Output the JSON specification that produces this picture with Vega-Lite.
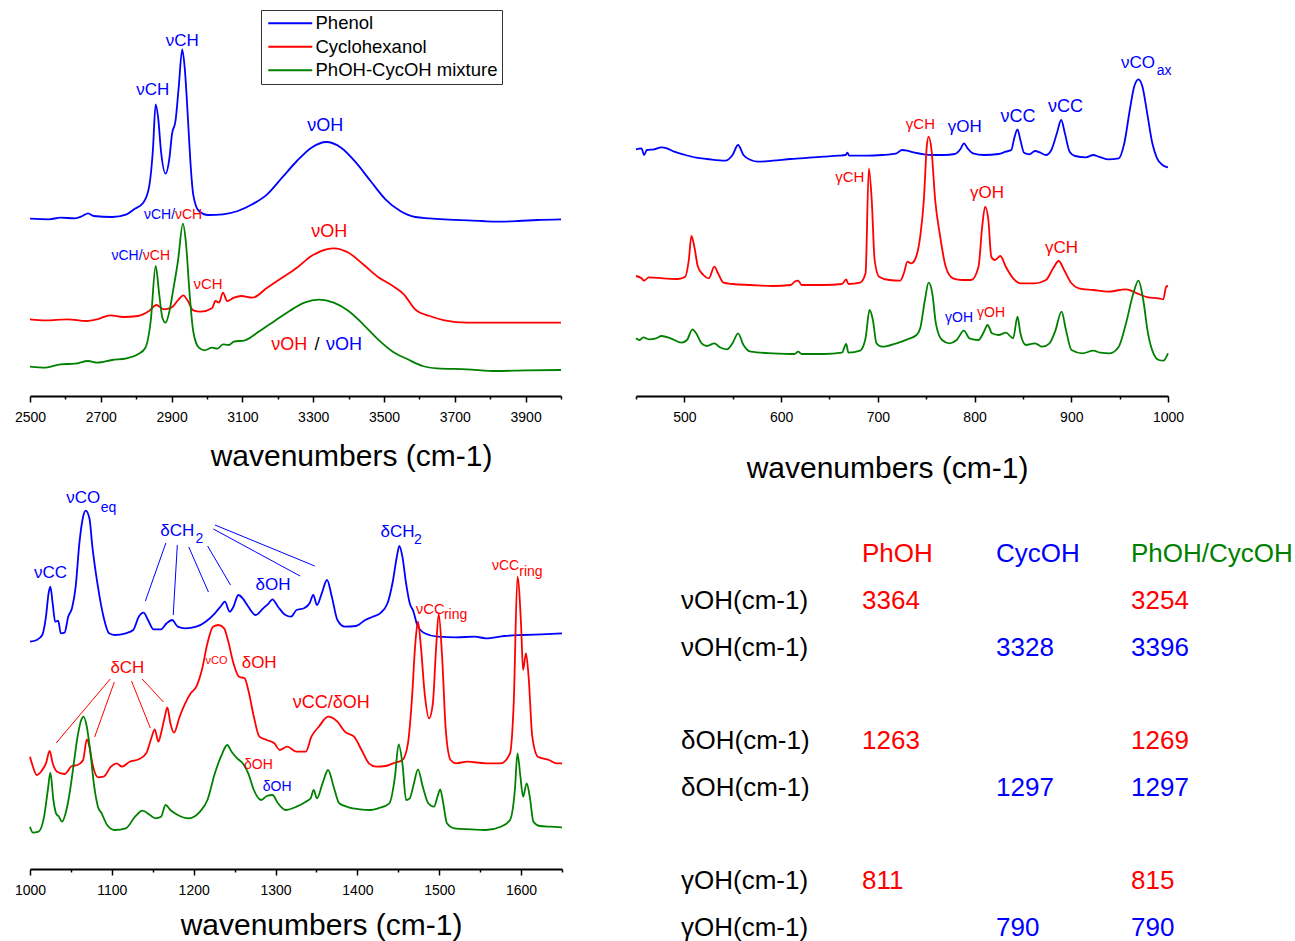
{
"$schema":"https://vega.github.io/schema/vega-lite/v6.json",
"padding":{"left":14,"top":8,"right":2,"bottom":0},
"config":{
 "view":{"stroke":null},
 "font":"Liberation Sans",
 "axis":{"domainColor":"black","domainWidth":2,"tickColor":"black","tickWidth":1.5,"labelFont":"Liberation Sans","labelFontSize":14,"labelColor":"black","labelFlush":false,"labelOverlap":false,"labelPadding":8,"titleFont":"Liberation Sans","titleFontSize":30,"titleFontWeight":"normal","titleColor":"black","titleAlign":"center","titleBaseline":"alphabetic","grid":false}
},
"datasets":{
 "trA":[
  {"s":"Phenol","x":[2500,2554,2586,2627,2648,2664,2680,2732,2773,2794,2820,2836,2847,2855,2862,2870,2883,2894,2901,2911,2920,2930,2937,2946,2953,2961,2977,3003,3045,3087,3128,3170,3212,3254,3295,3337,3379,3421,3462,3504,3546,3588,3629,3671,3776,3817,3880,3932,4000],
   "y":[177.3,176.7,178.3,177.7,180,182.7,180,179,181.7,186.7,193.3,208.3,245,291.7,278.3,245,222.3,238.3,261.7,275,308.3,346.7,328.3,278.3,235,201.7,185,181,181.7,185,191.7,201.7,218.3,235,248.3,254,248.3,233.3,215,196.7,185,179,177.7,176.7,175,174.3,175,176,176.7]},
  {"s":"Cyclohexanol","x":[2500,2544,2606,2659,2690,2727,2763,2805,2836,2857,2878,2899,2920,2933,2946,2961,2982,3014,3024,3034,3045,3057,3076,3097,3128,3170,3212,3254,3295,3337,3358,3400,3441,3483,3525,3556,3588,3629,3671,3734,3776,3880,4000],
   "y":[76.7,75.7,76.7,75,76.7,80.7,79,80,85,91,86.7,88.3,96.7,100.7,95,85.7,84.3,87.7,95,93.3,103.3,95,98.3,100,98.3,108.3,118.3,128.3,140,146.7,147.7,143.3,131.7,119,110,101.7,86.7,80,75.7,73.3,73.3,73.3,73.3]},
  {"s":"PhOH-CycOH mixture","x":[2500,2544,2586,2627,2664,2690,2732,2773,2805,2826,2841,2855,2865,2874,2883,2894,2904,2918,2932,2940,2951,2961,2977,2993,3014,3029,3045,3061,3076,3107,3149,3191,3233,3275,3316,3358,3400,3441,3483,3525,3567,3609,3650,3734,3817,3901,4000],
   "y":[29.3,28.3,31.7,32.3,35,33.3,36,37.7,41.7,48.3,75,130,101.7,78.3,73.3,85,105,135,172.3,155,101.7,65,48.3,45.7,48.3,47.3,51.7,51,54.3,55.7,65,75,85,93.3,96.3,93.3,85,71.7,56.7,44.3,36.7,30,27.7,26.7,25,25.7,26]}
 ],
 "trB":[
  {"s":"Phenol","x":[450,455.7,458.3,461.3,468.8,476.4,482,489.6,500.9,512.2,523.5,542.3,549.8,555.5,561.1,568.7,576.2,591.3,610.1,628.9,644,659.1,666.6,668.5,670.4,689.2,704.3,719.3,725,730.6,738.2,747.6,755.1,768.3,779.6,785.3,789,792.8,798.4,809.7,824.8,832.3,838,841,844.4,847.4,851.2,856.8,862.5,868.1,873.8,879.4,885.1,889.6,893.4,898.3,903.9,915.2,922.8,928.4,937.8,949.1,954.8,960.5,965,969.5,973.6,978.5,983.8,988.7,994.3,1000],
   "y":[246.7,247.7,241,246,246.7,248.7,247.7,244.3,241,238.3,237,235.3,241,251,241,236,234.3,235.3,237,238.3,239.3,240.3,241,243.3,240.3,240.3,241,242.7,246,245.3,243.3,241.7,241,241,242,246.7,252.7,247.7,242.7,241,242,244.3,246,257.7,266.7,256,243.3,241.7,245,243.3,241,246,262.7,276,262.7,244.3,240,238.7,241,239.3,236.7,237.7,252.7,286,309.3,316.7,309.3,282.7,252.7,237.7,231,228.7]},
  {"s":"Cyclohexanol","x":[450,455.7,458.3,463.2,478.3,493.3,500.9,504.6,507.3,510.3,514,519.7,525.3,531,534.8,540.4,549.8,568.7,591.3,610.1,613.9,617.6,621.4,644,662.8,667.3,669.6,681.7,687.3,690.7,693.7,696.7,701.3,711.8,723.1,726.9,730.6,734.4,738.2,743.8,747.6,750.6,752.5,755.5,759.3,764.5,770.2,777.7,787.1,796.6,804.1,807.9,810.9,814.3,817.3,821,826.7,832.3,839.9,847.4,862.5,873.8,881.3,887,892.6,900.2,907.7,922.8,937.8,956.6,967.9,979.3,990.6,995.1,998.1,1000],
   "y":[120,117.7,115.3,118.7,117.7,117,119.3,136,160,149.3,129.3,121,117.7,129.3,122.7,113.3,112,111,110,111,114.3,115.3,111,111,112,116.7,112,113.3,122.7,227.7,196,136,119.3,116,115.3,122.7,134.3,132.7,136,159.3,196,249.3,259.3,246,196,159.3,129.3,117.7,116,116,129.3,169.3,189.3,176,139.3,136,140,129.3,117.7,112.7,112.7,116,127.7,135,126,112.7,107.7,106,104.3,106.7,102.7,98.7,97.7,96.7,109.3,110]},
  {"s":"PhOH-CycOH mixture","x":[450,453.8,457.5,463.2,470.7,476.4,485.8,497.1,502.7,508.4,512.2,517.8,523.5,531,536.6,544.2,549.8,555.5,561.1,568.7,591.3,613.9,617.6,621.4,644,662.8,667.3,669.6,681.7,687.3,691.5,694.9,698.6,704.3,719.3,730.6,740,743.8,748.7,752.5,756.3,760,766.4,774,781.5,789,794.7,804.1,809.7,813.5,818,824.8,832.3,839.9,844.4,847.4,853.1,862.5,870,877.5,883.2,890,894.5,900.2,911.5,922.8,930.3,939.7,949.1,956.6,964.2,969.5,974.4,979.3,984.9,990.6,995.1,1000],
   "y":[57.7,56,58.7,56.7,57.7,60,57.7,53.3,56,66.7,62.7,52.7,50,52.7,48.7,46.7,52.7,62.7,51,44.3,42.7,42,44.3,42,42,43.3,52,43.3,45.3,57.7,86,76,52.7,49.3,52.7,56.7,61,67.7,96,113.3,102.7,72.7,56,52.7,56,65.3,57.7,56,64.3,71,62.7,61,63.3,57.7,79.3,62.7,51,52.7,49.3,52.7,64.3,84.3,66,46,42.7,45.3,43.3,42.7,49.3,72.7,102.7,115.3,96,62.7,42.7,36,35.3,42.7]}
 ],
 "trC":[
  {"s":"Phenol","x":[1000,1008.2,1015,1019.5,1022.7,1024.9,1027.7,1030.8,1034.5,1037.6,1042.2,1046.7,1051.3,1055.8,1060.3,1064.9,1068,1072.6,1076.2,1083,1089.8,1096.6,1103.4,1117,1126.1,1132.9,1138.8,1144.2,1151,1160.1,1166.9,1173.7,1180.5,1189.6,1203.2,1214.6,1225.9,1232.7,1238.1,1244,1248.6,1254.5,1259.9,1266.7,1275.8,1284.9,1291.7,1296.2,1303,1312.1,1318.9,1325.7,1334.8,1341.6,1346.1,1350.6,1356.5,1362.9,1368.8,1375.6,1384.7,1398.3,1409.6,1418.7,1427.7,1436.8,1443.6,1448.2,1451.3,1455,1459.5,1464,1468.6,1473.1,1482.2,1498.1,1520.7,1543.4,1557,1579.7,1602.4,1625,1650],
   "y":[227.3,229,234,252.3,275.7,282.3,265.7,247.3,248.3,235.7,236.3,252.3,260.7,282.3,325.7,352.3,358.3,350.7,322.3,282.3,252.3,235.7,234,235.7,239,252.3,256.3,249,239.7,239.7,245.7,249,242.3,240.7,242.3,247.3,255.7,262.3,267.3,257.3,262.3,274,270.7,262.3,254,260.7,265.7,269.7,262.3,254,252.3,259,260.7,265.7,274,264,275.7,289,272.3,249,242.3,243,249,252.3,255.7,265.7,289,312.3,323,312.3,285.7,265.7,257.3,244,235.7,232.3,231.7,232.3,230.7,233,234,234.7,235.7]},
  {"s":"Cyclohexanol","x":[1000,1003.6,1008.2,1015,1019.5,1024,1027.7,1033.1,1042.2,1051.3,1058.1,1064.9,1069.4,1072.6,1076.2,1083,1089.8,1098.9,1105.7,1112.5,1121.6,1132.9,1142,1148.8,1152.4,1156.9,1160.1,1164.7,1167.8,1171.5,1176,1182.8,1189.6,1196.4,1203.2,1210,1216.8,1223.6,1230.4,1237.2,1241.8,1248.6,1255.4,1262.2,1266.7,1273.5,1280.3,1289.4,1298.5,1305.3,1314.3,1325.7,1337,1343.8,1352.9,1364.2,1375.6,1384.7,1396,1405.1,1414.1,1423.2,1434.5,1443.6,1455,1461.8,1466.3,1470.8,1474,1477.6,1482.2,1487.6,1492.2,1495.8,1499.4,1503.5,1508,1513.9,1520.7,1534.3,1557,1575.2,1586.5,1591,1595.6,1600.1,1602.4,1606,1609.2,1613.7,1620.5,1634.1,1643.2,1650],
   "y":[112.3,102.3,94,99,105.7,118,105.7,97.3,95,103,104,109,129.7,122.3,105.7,91.7,92.3,102.3,105.7,102.3,107.3,109.7,115.7,132.3,139.7,127.3,135.7,152.3,161.7,145.7,136.3,152.3,165.7,175.7,182.3,199,225.7,242.3,244,240.7,229,205.7,192.3,190.7,179,152.3,132.3,129,125.7,119,122.3,117.3,117.3,132.3,142.3,152.3,147.3,137.3,132.3,119,105.7,102.3,103,105.7,109,125.7,165.7,225.7,247.3,222.3,175.7,150.7,165.7,215.7,255,212.3,139,109,105.7,107.3,105.7,105.7,115.7,165.7,292.3,242.3,199,215.7,192.3,132.3,112.3,109,105.7,105.7]},
  {"s":"PhOH-CycOH mixture","x":[1000,1003.6,1010.4,1017.2,1021.8,1024.9,1028.6,1031.8,1035.4,1039,1044.5,1049,1053.5,1058.1,1062.6,1065.3,1069.4,1073.9,1078.5,1083,1087.5,1094.3,1103.4,1117,1128.4,1137.4,1146.5,1153.3,1160.1,1165.6,1171.5,1180.5,1194.1,1207.7,1216.8,1225.9,1235,1240.9,1246.3,1253.1,1259.9,1266.7,1273.5,1282.6,1289.4,1296.2,1303,1312.1,1325.7,1337,1342.9,1346.6,1350.6,1357.4,1364.2,1371,1377.8,1389.2,1402.8,1416.4,1425.5,1439.1,1445.9,1450.4,1455,1459.5,1464,1468.6,1474,1479.9,1486.7,1493.5,1498.1,1501.2,1504.9,1509.4,1518.5,1538.9,1557,1575.2,1586.5,1592.4,1595.6,1599.2,1602.4,1606.9,1610.6,1615.1,1622.8,1636.4,1650],
   "y":[42.3,36.3,37.3,52.3,79,96.3,69,55.7,52.3,47.3,59,79,105.7,132.3,149,152.3,142.3,115.7,82.3,62.3,55.7,44,39,40.7,52.3,58.3,54,50.7,52.3,64,59,54,50.7,57.3,69,95.7,115.7,124,117.3,110.7,105.7,95.7,79,69,73,74,65.7,59,62.3,67.3,70.7,79,70.7,85.7,99,82.3,65.7,61.7,59.7,59,60.7,65.7,92.3,124.7,105.7,69,70.7,84,99.7,82.3,65.7,62.3,73,79.7,65.7,45.7,40.7,39.7,39,42.3,49,79,115.7,92.3,72.3,85.7,72.3,47.3,43,42.3,41.7]}
 ],
 "annA":[
  {"x":2847,"y":306,"t":"νCH","s":"Phenol","k":"L"},
  {"x":2930,"y":355,"t":"νCH","s":"Phenol","k":"L"},
  {"x":3334,"y":270,"t":"νOH","s":"Phenol","k":"XL"},
  {"x":2866,"y":181,"t":"νCH/","s":"Phenol","k":"S"},
  {"x":2948,"y":181,"t":"νCH","s":"Cyclohexanol","k":"S"},
  {"x":3345,"y":164,"t":"νOH","s":"Cyclohexanol","k":"XL"},
  {"x":2774,"y":140,"t":"νCH/","s":"Phenol","k":"S"},
  {"x":2857,"y":140,"t":"νCH","s":"Cyclohexanol","k":"S"},
  {"x":3003,"y":112,"t":"νCH","s":"Cyclohexanol","k":"M"},
  {"x":3232,"y":51,"t":"νOH","s":"Cyclohexanol","k":"XL"},
  {"x":3311,"y":51,"t":"/","s":"none","k":"XL"},
  {"x":3387,"y":51,"t":"νOH","s":"Phenol","k":"XL"}
 ],
 "annB":[
  {"x":969,"y":333,"t":"νCO","s":"Phenol","k":"L"},
  {"x":996,"y":325,"t":"ax","s":"Phenol","k":"S"},
  {"x":894,"y":289,"t":"νCC","s":"Phenol","k":"XL"},
  {"x":845,"y":279,"t":"νCC","s":"Phenol","k":"XL"},
  {"x":790,"y":269,"t":"γOH","s":"Phenol","k":"L"},
  {"x":744,"y":272,"t":"γCH","s":"Cyclohexanol","k":"M"},
  {"x":671,"y":219,"t":"γCH","s":"Cyclohexanol","k":"M"},
  {"x":813,"y":203,"t":"γOH","s":"Cyclohexanol","k":"L"},
  {"x":890,"y":148,"t":"γCH","s":"Cyclohexanol","k":"L"},
  {"x":784,"y":78,"t":"γOH","s":"Phenol","k":"S"},
  {"x":817,"y":83,"t":"γOH","s":"Cyclohexanol","k":"S"}
 ],
 "annC":[
  {"x":1025,"y":296,"t":"νCC","s":"Phenol","k":"L"},
  {"x":1065,"y":371,"t":"νCO","s":"Phenol","k":"L"},
  {"x":1096,"y":361,"t":"eq","s":"Phenol","k":"S"},
  {"x":1180,"y":338,"t":"δCH","s":"Phenol","k":"L"},
  {"x":1207,"y":330,"t":"2","s":"Phenol","k":"S"},
  {"x":1297,"y":284,"t":"δOH","s":"Phenol","k":"L"},
  {"x":1449,"y":337,"t":"δCH","s":"Phenol","k":"L"},
  {"x":1474,"y":329,"t":"2","s":"Phenol","k":"S"},
  {"x":1581,"y":303,"t":"νCC","s":"Cyclohexanol","k":"S"},
  {"x":1612,"y":297,"t":"ring","s":"Cyclohexanol","k":"S"},
  {"x":1489,"y":260,"t":"νCC","s":"Cyclohexanol","k":"M"},
  {"x":1520,"y":254,"t":"ring","s":"Cyclohexanol","k":"S"},
  {"x":1119,"y":201,"t":"δCH","s":"Cyclohexanol","k":"L"},
  {"x":1228,"y":208,"t":"νCO","s":"Cyclohexanol","k":"XS"},
  {"x":1280,"y":206,"t":"δOH","s":"Cyclohexanol","k":"L"},
  {"x":1368,"y":166,"t":"νCC/δOH","s":"Cyclohexanol","k":"XL"},
  {"x":1279,"y":104,"t":"δOH","s":"Cyclohexanol","k":"S"},
  {"x":1302,"y":82,"t":"δOH","s":"Phenol","k":"S"}
 ],
 "linesC":[
  {"x":1166,"y":326,"x2":1141,"y2":268,"s":"Phenol"},
  {"x":1180,"y":324,"x2":1175,"y2":254,"s":"Phenol"},
  {"x":1194,"y":322,"x2":1218,"y2":277,"s":"Phenol"},
  {"x":1217,"y":323,"x2":1245,"y2":284,"s":"Phenol"},
  {"x":1224,"y":340,"x2":1330,"y2":293,"s":"Phenol"},
  {"x":1226,"y":344,"x2":1348,"y2":303,"s":"Phenol"},
  {"x":1098,"y":190,"x2":1032,"y2":126,"s":"Cyclohexanol"},
  {"x":1103,"y":187,"x2":1079,"y2":132,"s":"Cyclohexanol"},
  {"x":1124,"y":188,"x2":1147,"y2":141,"s":"Cyclohexanol"},
  {"x":1137,"y":190,"x2":1163,"y2":167,"s":"Cyclohexanol"}
 ],
 "tab":[
  {"row":0,"col":1,"t":"PhOH","g":"PhOH"},
  {"row":0,"col":2,"t":"CycOH","g":"CycOH"},
  {"row":0,"col":3,"t":"PhOH/CycOH","g":"mix"},
  {"row":1,"col":0,"t":"νOH(cm-1)","g":"label"},
  {"row":1,"col":1,"t":"3364","g":"PhOH"},
  {"row":1,"col":3,"t":"3254","g":"PhOH"},
  {"row":2,"col":0,"t":"νOH(cm-1)","g":"label"},
  {"row":2,"col":2,"t":"3328","g":"CycOH"},
  {"row":2,"col":3,"t":"3396","g":"CycOH"},
  {"row":4,"col":0,"t":"δOH(cm-1)","g":"label"},
  {"row":4,"col":1,"t":"1263","g":"PhOH"},
  {"row":4,"col":3,"t":"1269","g":"PhOH"},
  {"row":5,"col":0,"t":"δOH(cm-1)","g":"label"},
  {"row":5,"col":2,"t":"1297","g":"CycOH"},
  {"row":5,"col":3,"t":"1297","g":"CycOH"},
  {"row":7,"col":0,"t":"γOH(cm-1)","g":"label"},
  {"row":7,"col":1,"t":"811","g":"PhOH"},
  {"row":7,"col":3,"t":"815","g":"PhOH"},
  {"row":8,"col":0,"t":"γOH(cm-1)","g":"label"},
  {"row":8,"col":2,"t":"790","g":"CycOH"},
  {"row":8,"col":3,"t":"790","g":"CycOH"}
 ]
},
"columns":2,
"bounds":"flush",
"align":"each",
"spacing":{"row":80,"column":74},
"concat":[
  {"width":531,"height":388,
   "encoding":{
    "x":{"field":"x","type":"quantitative","scale":{"domain":[2500,4000],"nice":false,"zero":false},
     "axis":{"values":[2500,2600,2700,2800,2900,3000,3100,3200,3300,3400,3500,3600,3700,3800,3900,4000],"format":"d","labelFontSize":14,"labelExpr":"datum.value % 200 == 100 ? datum.label : ''","tickSize":{"condition":{"test":"datum.value % 200 == 100","value":6},"value":3},"title":"wavenumbers (cm-1)","titleX":321,"titleY":69}},
    "y":{"field":"y","type":"quantitative","scale":{"domain":[0,388],"nice":false,"zero":false},"axis":null}
   },
   "layer":[
    {"data":{"name":"trA"},"transform":[{"flatten":["x","y"]}],"mark":{"type":"line","strokeWidth":1.8,"interpolate":"monotone"},
     "encoding":{"color":{"field":"s","type":"nominal","scale":{"domain":["Phenol","Cyclohexanol","PhOH-CycOH mixture"],"range":["#0000ff","#ff0000","#008000"]},
      "legend":{"title":null,"orient":"none","legendX":231,"legendY":2,"symbolType":"M-4.4,0H4.4","symbolSize":100,"symbolStrokeWidth":2,"symbolOffset":16,"labelFontSize":18.5,"labelFont":"Liberation Sans","labelColor":"black","labelOffset":16,"labelLimit":400,"rowPadding":4.5,"padding":4,"strokeColor":"#333333","fillColor":"white"}}}},
    {"data":{"name":"annA"},
     "encoding":{"text":{"field":"t"},"color":{"condition":{"test":"datum.s == 'none'","value":"black"},"field":"s","type":"nominal","scale":{"domain":["Phenol","Cyclohexanol","PhOH-CycOH mixture"],"range":["#0000ff","#ff0000","#008000"]},"legend":null}},
     "layer":[
      {"transform":[{"filter":"datum.k == 'XL'"}],"mark":{"type":"text","baseline":"middle","fontSize":18}},
      {"transform":[{"filter":"datum.k == 'L'"}],"mark":{"type":"text","baseline":"middle","fontSize":17}},
      {"transform":[{"filter":"datum.k == 'M'"}],"mark":{"type":"text","baseline":"middle","fontSize":15}},
      {"transform":[{"filter":"datum.k == 'S'"}],"mark":{"type":"text","baseline":"middle","fontSize":14}}
     ]}
   ]},
  {"width":532,"height":388,
   "encoding":{
    "x":{"field":"x","type":"quantitative","scale":{"domain":[450,1000],"nice":false,"zero":false},
     "axis":{"values":[450,500,550,600,650,700,750,800,850,900,950,1000],"format":"d","labelFontSize":14,"labelExpr":"datum.value % 100 == 0 ? datum.label : ''","tickSize":{"condition":{"test":"datum.value % 100 == 0","value":6},"value":3},"title":"wavenumbers (cm-1)","titleX":251,"titleY":81}},
    "y":{"field":"y","type":"quantitative","scale":{"domain":[0,388],"nice":false,"zero":false},"axis":null}
   },
   "layer":[
    {"data":{"name":"trB"},"transform":[{"flatten":["x","y"]}],"mark":{"type":"line","strokeWidth":1.8,"interpolate":"monotone"},
     "encoding":{"color":{"field":"s","type":"nominal","scale":{"domain":["Phenol","Cyclohexanol","PhOH-CycOH mixture"],"range":["#0000ff","#ff0000","#008000"]},"legend":null}}},
    {"data":{"name":"annB"},
     "encoding":{"text":{"field":"t"},"color":{"condition":{"test":"datum.s == 'none'","value":"black"},"field":"s","type":"nominal","scale":{"domain":["Phenol","Cyclohexanol","PhOH-CycOH mixture"],"range":["#0000ff","#ff0000","#008000"]},"legend":null}},
     "layer":[
      {"transform":[{"filter":"datum.k == 'XL'"}],"mark":{"type":"text","baseline":"middle","fontSize":18}},
      {"transform":[{"filter":"datum.k == 'L'"}],"mark":{"type":"text","baseline":"middle","fontSize":17}},
      {"transform":[{"filter":"datum.k == 'M'"}],"mark":{"type":"text","baseline":"middle","fontSize":15}},
      {"transform":[{"filter":"datum.k == 'S'"}],"mark":{"type":"text","baseline":"middle","fontSize":14}}
     ]}
   ]},
  {"width":532,"height":393,
   "encoding":{
    "x":{"field":"x","type":"quantitative","scale":{"domain":[1000,1650],"nice":false,"zero":false},
     "axis":{"values":[1000,1050,1100,1150,1200,1250,1300,1350,1400,1450,1500,1550,1600,1650],"format":"d","labelFontSize":14,"labelExpr":"datum.value % 100 == 0 ? datum.label : ''","tickSize":{"condition":{"test":"datum.value % 100 == 0","value":6},"value":3},"title":"wavenumbers (cm-1)","titleX":291,"titleY":65}},
    "y":{"field":"y","type":"quantitative","scale":{"domain":[0,393],"nice":false,"zero":false},"axis":null}
   },
   "layer":[
    {"data":{"name":"trC"},"transform":[{"flatten":["x","y"]}],"mark":{"type":"line","strokeWidth":1.8,"interpolate":"monotone"},
     "encoding":{"color":{"field":"s","type":"nominal","scale":{"domain":["Phenol","Cyclohexanol","PhOH-CycOH mixture"],"range":["#0000ff","#ff0000","#008000"]},"legend":null}}},
    {"data":{"name":"linesC"},"mark":{"type":"rule","strokeWidth":1},
     "encoding":{"x2":{"field":"x2"},"y2":{"field":"y2"},"color":{"field":"s","type":"nominal","scale":{"domain":["Phenol","Cyclohexanol","PhOH-CycOH mixture"],"range":["#0000ff","#ff0000","#008000"]},"legend":null}}},
    {"data":{"name":"annC"},
     "encoding":{"text":{"field":"t"},"color":{"condition":{"test":"datum.s == 'none'","value":"black"},"field":"s","type":"nominal","scale":{"domain":["Phenol","Cyclohexanol","PhOH-CycOH mixture"],"range":["#0000ff","#ff0000","#008000"]},"legend":null}},
     "layer":[
      {"transform":[{"filter":"datum.k == 'XL'"}],"mark":{"type":"text","baseline":"middle","fontSize":18}},
      {"transform":[{"filter":"datum.k == 'L'"}],"mark":{"type":"text","baseline":"middle","fontSize":17}},
      {"transform":[{"filter":"datum.k == 'M'"}],"mark":{"type":"text","baseline":"middle","fontSize":15}},
      {"transform":[{"filter":"datum.k == 'S'"}],"mark":{"type":"text","baseline":"middle","fontSize":14}},
      {"transform":[{"filter":"datum.k == 'XS'"}],"mark":{"type":"text","baseline":"middle","fontSize":11}}
     ]}
   ]},
  {"width":495,"height":465,
   "data":{"name":"tab"},
   "mark":{"type":"text","align":"left","baseline":"alphabetic","fontSize":26},
   "encoding":{
    "x":{"field":"col","type":"quantitative","scale":{"domain":[0,1,2,3],"range":[45,226,360,495],"nice":false,"zero":false},"axis":null},
    "y":{"field":"row","type":"quantitative","scale":{"domain":[0,8],"range":[86,460],"nice":false,"zero":false},"axis":null},
    "text":{"field":"t"},
    "fill":{"field":"g","type":"nominal","scale":{"domain":["label","PhOH","CycOH","mix"],"range":["#000000","#ff0000","#0000ff","#008000"]},"legend":null}
   }}
]
}
